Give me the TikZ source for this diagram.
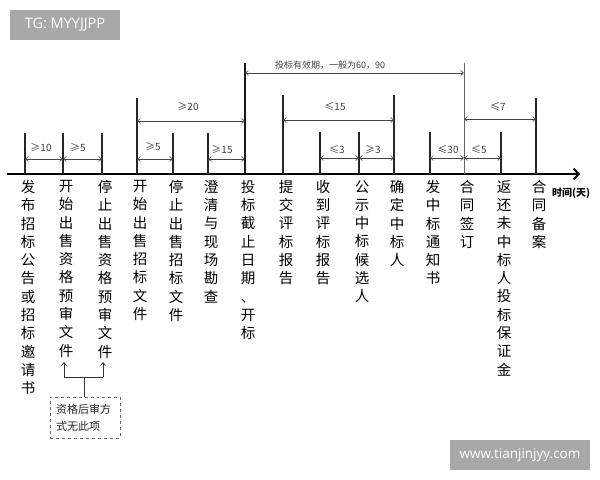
\documentclass[tikz,border=0pt]{standalone}
\usepackage{fontspec}
\setmainfont{Liberation Sans}
\newfontfamily\cjk{Noto Sans CJK SC}
\newfontfamily\wmfont{Open Sans}
\usetikzlibrary{arrows.meta,calc}
\definecolor{wmgray}{HTML}{A8A8A8}
\definecolor{dimcol}{HTML}{3C4656}
\begin{document}
\begin{tikzpicture}[x=1bp,y=-1bp,
  tickline/.style={line width=1.3bp, draw=black!85},
  dim/.style={draw=dimcol, line width=0.6bp, {Straight Barb[length=3bp,width=5bp]}-{Straight Barb[length=3bp,width=5bp]}},
  dimlbl/.style={font=\cjk\fontsize{10bp}{10bp}\selectfont, text=black!75, inner sep=0pt},
  col/.style={font=\cjk\fontsize{14.5bp}{18.3bp}\selectfont, align=center, anchor=north, inner sep=0pt},
  wmbox/.style={fill=wmgray, draw=none, text=white, inner sep=0pt}
]
\useasboundingbox (0,0) rectangle (600,480);
\fill[white] (0,0) rectangle (600,480);

% watermark boxes
\node[wmbox, font=\wmfont\fontsize{14.5bp}{14.5bp}\selectfont, minimum width=110bp, minimum height=30bp] (tg) at (65,25) {TG: MYYJJPP};
\node[wmbox, font=\wmfont\fontsize{13.5bp}{13.5bp}\selectfont, minimum width=140bp, minimum height=30bp] (url) at (520,455) {www.tianjinjyy.com};

% axis
\coordinate (ax0) at (7,174);
\coordinate (ax1) at (580,174);
\draw[line width=2bp, -{Straight Barb[length=5bp,width=11bp]}] (ax0) -- (ax1);
\node[font=\cjk\bfseries\fontsize{10bp}{10bp}\selectfont, inner sep=0pt] (unit) at (571,193) {时间(天)};

% ticks: bottoms b, tops t
\foreach \i/\x/\t in {1/25/133, 2/63/133, 3/102/133, 4/137/98, 5/173/133, 6/208/133, 7/245/63, 8/283/95, 9/320/132, 10/359/132, 11/394/95, 12/430/132, 13/464/63, 14/501/132, 15/536/98}{
  \coordinate (b\i) at (\x,174);
  \coordinate (t\i) at (\x,\t);
}
\foreach \i in {1,2,3,4,5,6,8,9,10,11,12,14,15}{\draw[tickline] (b\i) -- (t\i);}
\draw[line width=1.8bp, draw=black!90] (b7) -- (t7);
\draw[line width=0.9bp, draw=black!60] (b13) -- (t13);

% dimension arrows
\draw[dim] (b1 |- 0,159) -- (b2 |- 0,159);
\node[dimlbl] (l1) at (41,148) {≥10};
\draw[dim] (b2 |- 0,159) -- (b3 |- 0,159);
\node[dimlbl] (l2) at (78,148) {≥5};
\draw[dim] (b4 |- 0,159) -- (b5 |- 0,159);
\node[dimlbl] (l3) at (153,147) {≥5};
\draw[dim] (b6 |- 0,159) -- (b7 |- 0,159);
\node[dimlbl] (l4) at (222,150) {≥15};
\draw[dim] (b4 |- 0,121) -- (b7 |- 0,121);
\node[dimlbl] (l5) at (188,107) {≥20};
\draw[dim] (b7 |- 0,73) -- (b13 |- 0,73);
\node[dimlbl, font=\cjk\fontsize{9bp}{9bp}\selectfont] (l6) at (330,65) {投标有效期，一般为60，90};
\draw[dim] (b8 |- 0,120) -- (b11 |- 0,120);
\node[dimlbl] (l7) at (335,107) {≤15};
\draw[dim] (b9 |- 0,158) -- (b10 |- 0,158);
\node[dimlbl] (l8) at (337,150) {≤3};
\draw[dim] (b10 |- 0,158) -- (b11 |- 0,158);
\node[dimlbl] (l9) at (373,150) {≥3};
\draw[dim] (b12 |- 0,158) -- (b13 |- 0,158);
\node[dimlbl] (l10) at (448,150) {≤30};
\draw[dim] (b13 |- 0,158) -- (b14 |- 0,158);
\node[dimlbl] (l11) at (479,150) {≤5};
\draw[dim] (b13 |- 0,119) -- (b15 |- 0,119);
\node[dimlbl] (l12) at (498,107) {≤7};

% vertical labels
\node[col] (c1) at (28,180) {发\\布\\招\\标\\公\\告\\或\\招\\标\\邀\\请\\书};
\node[col] (c2) at (66,180) {开\\始\\出\\售\\资\\格\\预\\审\\文\\件};
\node[col] (c3) at (105,180) {停\\止\\出\\售\\资\\格\\预\\审\\文\\件};
\node[col] (c4) at (140,180) {开\\始\\出\\售\\招\\标\\文\\件};
\node[col] (c5) at (176,180) {停\\止\\出\\售\\招\\标\\文\\件};
\node[col] (c6) at (211,180) {澄\\清\\与\\现\\场\\勘\\查};
\node[col] (c7) at (248,180) {投\\标\\截\\止\\日\\期\\、\\开\\标};
\node[col] (c8) at (286,180) {提\\交\\评\\标\\报\\告};
\node[col] (c9) at (323,180) {收\\到\\评\\标\\报\\告};
\node[col] (c10) at (362,180) {公\\示\\中\\标\\候\\选\\人};
\node[col] (c11) at (397,180) {确\\定\\中\\标\\人};
\node[col] (c12) at (433,180) {发\\中\\标\\通\\知\\书};
\node[col] (c13) at (467,180) {合\\同\\签\\订};
\node[col] (c14) at (504,180) {返\\还\\未\\中\\标\\人\\投\\标\\保\\证\\金};
\node[col] (c15) at (539,180) {合\\同\\备\\案};

% note box and bracket
\node[draw=black!60, dashed, line width=0.7bp, minimum width=70bp, minimum height=41bp, inner sep=0pt] (note) at (85,417.5) {};
\node[font=\cjk\fontsize{11bp}{17bp}\selectfont, align=left, anchor=west, inner sep=0pt, text=black!85] (notetxt) at (56,417.5) {资格后审方\\式无此项};
\coordinate (brL) at (64,377);
\coordinate (brR) at (103,377);
\coordinate (brM) at (84,377);
\coordinate (arL) at (64,362);
\coordinate (arR) at (103,362);
\draw[line width=0.8bp, draw=black!80, -{Straight Barb[length=3bp,width=5bp]}] (brL) -- (arL);
\draw[line width=0.8bp, draw=black!80, -{Straight Barb[length=3bp,width=5bp]}] (brR) -- (arR);
\draw[line width=0.8bp, draw=black!80] (brL) -- (brR);
\draw[line width=0.8bp, draw=black!80] (brM) -- (note.north -| brM);
\end{tikzpicture}
\end{document}
